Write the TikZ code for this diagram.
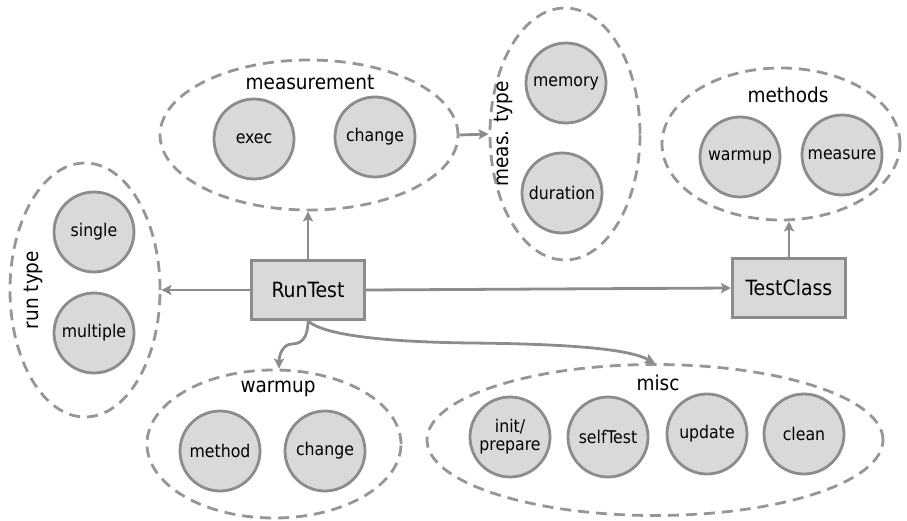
\documentclass[tikz,border=0pt]{standalone}
\usepackage{fontspec}
\setmainfont{DejaVu Sans Condensed}
\usetikzlibrary{shapes.geometric, arrows.meta}

\definecolor{linegray}{RGB}{140,140,140}
\definecolor{fillgray}{RGB}{217,217,217}
\definecolor{dashgray}{RGB}{150,150,150}

\begin{document}
\begin{tikzpicture}[>={Stealth[length=10pt, width=10pt, inset=2pt]}, x=1pt, y=-1pt,
  line width=2.8pt,
  % option circles inside the groups
  optcircle/.style={circle, draw=linegray, fill=fillgray, minimum size=80pt,
                    inner sep=0pt, align=center, font=\fontsize{17.5}{18}\selectfont},
  % the two classes
  classbox/.style={draw=linegray, fill=fillgray, line width=3pt, minimum width=113pt,
                   minimum height=59pt, font=\fontsize{21}{24}\selectfont},
  % dashed group outlines
  groupoval/.style={ellipse, draw=dashgray, dash pattern=on 11pt off 7pt, inner sep=0pt},
  grouplabel/.style={font=\fontsize{20.5}{24}\selectfont},
  conn/.style={->, draw=linegray}
]
  \useasboundingbox (0,0) rectangle (907,521);

  % Group outlines
  \node[groupoval, minimum width=298pt, minimum height=150pt] (meas) at (309,135) {};
  \node[groupoval, minimum width=150pt, minimum height=252pt] (meastype) at (565,134) {};
  \node[groupoval, minimum width=238pt, minimum height=152pt] (methods) at (781,144) {};
  \node[groupoval, minimum width=150pt, minimum height=254pt] (runtype) at (85,290) {};
  \node[groupoval, minimum width=254pt, minimum height=148pt] (warmup) at (274,444) {};
  \node[groupoval, minimum width=456pt, minimum height=151pt] (misc) at (655,440) {};

  % Group labels
  \node[grouplabel] (measlabel) at (310,82) {measurement};
  \node[grouplabel, rotate=90] (meastypelabel) at (503,134) {meas. type};
  \node[grouplabel] (methodslabel) at (788,95) {methods};
  \node[grouplabel, rotate=90] (runtypelabel) at (33,290) {run type};
  \node[grouplabel] (warmuplabel) at (278,389) {warmup};
  \node[grouplabel] (misclabel) at (658,383) {misc};

  % Options
  \node[optcircle] (exec) at (254,139) {exec};
  \node[optcircle] (measchange) at (375,137) {change};
  \node[optcircle] (memory) at (566,83) {memory};
  \node[optcircle] (duration) at (562,193) {duration};
  \node[optcircle] (mwarmup) at (740,157) {warmup};
  \node[optcircle] (measure) at (842,155) {measure};
  \node[optcircle] (single) at (94,232) {single};
  \node[optcircle] (multiple) at (94,333) {multiple};
  \node[optcircle] (method) at (220,451) {method};
  \node[optcircle] (wchange) at (325,451) {change};
  \node[optcircle] (init) at (510,437) {init/\\prepare};
  \node[optcircle] (selftest) at (608,437) {selfTest};
  \node[optcircle] (update) at (707,434) {update};
  \node[optcircle] (clean) at (804,434) {clean};

  % Classes
  \node[classbox] (runtest) at (308,290) {RunTest};
  \node[classbox] (testclass) at (789,288) {TestClass};

  % Connectors
  \draw[conn] (runtest.north) -- (runtest.north |- meas.south);
  \draw[conn] (meas.east) -- (meastype.west);
  \draw[conn] (runtest.west) -- (runtype.east);
  \draw[conn] (runtest.east) -- (testclass.west);
  \draw[conn] (testclass.north) -- (testclass.north |- methods.south);
  \draw[conn] (runtest.south) .. controls +(0,16) and +(10,0) .. (292,344)
    .. controls +(-10,0) and +(0,-12) .. ([xshift=5pt]warmup.north);
  \draw[conn] (runtest.south) .. controls (325,336) and (390,342) .. (470,343)
    .. controls (580,344) and (630,350) .. (misc.north);
\end{tikzpicture}
\end{document}
